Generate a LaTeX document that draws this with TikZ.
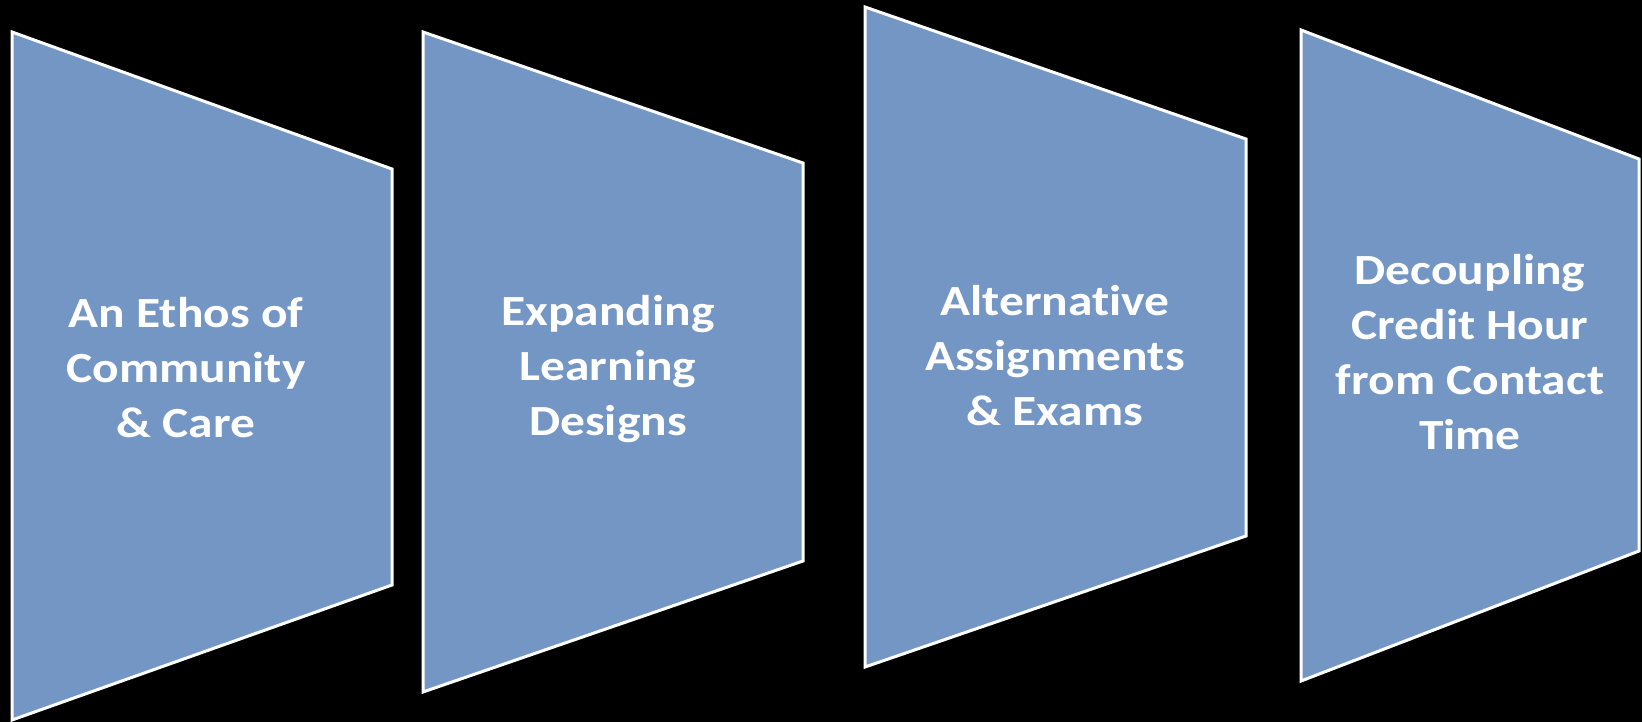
\documentclass[tikz,border=0pt]{standalone}
\usepackage{fontspec}
\newfontfamily\panelfont{Carlito}[FakeStretch=1.15,Ligatures=NoCommon]
\definecolor{panelblue}{RGB}{116,150,196}
\begin{document}
\begin{tikzpicture}[x=1pt,y=-1pt,
  panel/.style={fill=panelblue,draw=white,line width=3pt,line join=miter},
  paneltext/.style={text=white,font=\panelfont\bfseries\fontsize{43}{55}\selectfont,
    align=center,anchor=base,inner sep=0pt}]
% black backdrop fixing the page size
\fill[black] (0,0) rectangle (1642,722);
\useasboundingbox (0,0) rectangle (1642,722);

% four trapezoid panels
\draw[panel] (12,32) -- (392,169) -- (392,585) -- (12,720) -- cycle;
\draw[panel] (423,32) -- (803,163) -- (803,561) -- (423,692) -- cycle;
\draw[panel] (865,7) -- (1246,139) -- (1246,536) -- (865,667) -- cycle;
\draw[panel] (1301,30) -- (1639,159) -- (1639,551) -- (1301,681) -- cycle;

% panel captions (anchored on the baseline of the last line)
\node[paneltext] (ethos) at (186,437) {An Ethos of\\Community\\\& Care};
\node[paneltext] (designs) at (608,435) {Expanding\\Learning\\Designs};
\node[paneltext] (exams) at (1055,425) {Alternative\\Assignments\\\& Exams};
\node[paneltext] (credit) at (1470,449) {Decoupling\\Credit Hour\\from Contact\\Time};
\end{tikzpicture}
\end{document}
